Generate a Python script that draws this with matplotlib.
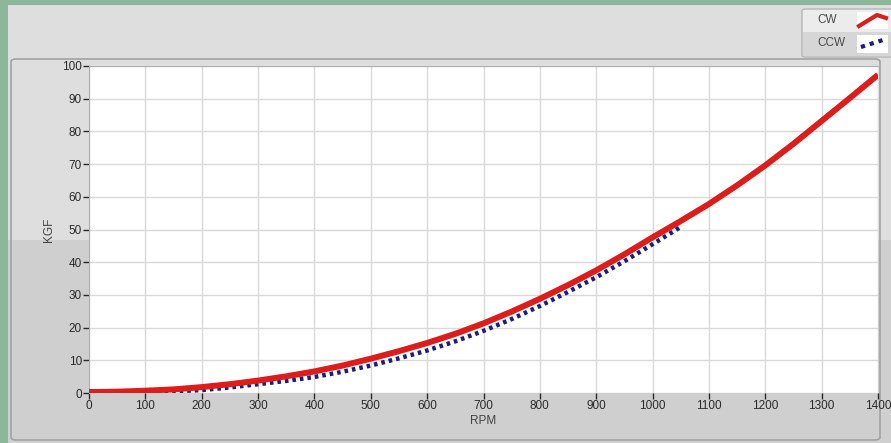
import matplotlib
matplotlib.use("Agg")
import matplotlib.pyplot as plt
from matplotlib.patches import Rectangle, FancyBboxPatch
from matplotlib.lines import Line2D

# data
rpm_cw = [0, 50, 100, 150, 200, 250, 300, 350, 400, 450, 500, 550, 600, 650, 700,
          750, 800, 850, 900, 950, 1000, 1050, 1100, 1150, 1200, 1250, 1300, 1350, 1400]
kgf_cw = [0.3, 0.4, 0.7, 1.1, 1.8, 2.7, 3.8, 5.1, 6.6, 8.4, 10.5, 12.8, 15.3, 18.1, 21.3,
          24.9, 28.8, 33.0, 37.5, 42.4, 47.6, 52.6, 57.8, 63.5, 69.6, 76.2, 83.2, 90.2, 97.3]
rpm_ccw = [0, 50, 100, 150, 200, 250, 300, 350, 400, 450, 500, 550, 600, 650, 700,
           750, 800, 850, 900, 950, 1000, 1050]
kgf_ccw = [0.0, 0.1, 0.2, 0.5, 0.9, 1.7, 2.7, 3.7, 4.9, 6.5, 8.4, 10.6, 13.0, 15.8, 19.0,
           22.6, 26.6, 30.9, 35.4, 40.3, 45.5, 50.8]
xticks = list(range(0, 1401, 100))
yticks = list(range(0, 101, 10))

W, H = 891, 443
plt.rcParams['font.family'] = ['Liberation Sans', 'DejaVu Sans']
fig = plt.figure(figsize=(W / 100, H / 100), dpi=100)
fig.patch.set_facecolor('#8cb79b')

def px(x0, y0, x1, y1):
    # pixel box (top-left origin) -> figure coords
    return x0 / W, 1 - y1 / H, (x1 - x0) / W, (y1 - y0) / H

def rect(x0, y0, x1, y1, **kw):
    x, y, w, h = px(x0, y0, x1, y1)
    fig.patches.append(Rectangle((x, y), w, h, transform=fig.transFigure, **kw))

# panel backgrounds (behind the axes)
rect(8, 5, 891, 443, facecolor='#dedede', edgecolor='none', zorder=-3)
rect(8, 240, 891, 443, facecolor='#cfcfcf', edgecolor='none', zorder=-3)
x, y, w, h = px(11, 59, 880, 440)
fig.patches.append(FancyBboxPatch((x, y), w, h, boxstyle='round,pad=0,rounding_size=0.006',
                                  transform=fig.transFigure, facecolor='none',
                                  edgecolor='#a3a3a3', lw=1.2, zorder=-2))

ax = fig.add_axes([89 / W, 1 - 393 / H, (878 - 89) / W, (393 - 66) / H])
ax.set_facecolor('white')
ax.plot(rpm_ccw, kgf_ccw, color='#1c1c7a', lw=3.2, linestyle=(0, (0.8, 0.9)), zorder=3)
ax.plot(rpm_cw, kgf_cw, color='#dd1c1c', lw=4.3, solid_capstyle='butt', zorder=4)

ax.set_xlim(0, 1400)
ax.set_ylim(0, 100)
ax.set_xticks(xticks)
ax.set_yticks(yticks)
ax.grid(True, color='#d9d9d9', lw=1)
ax.set_axisbelow(True)
ax.tick_params(axis='both', colors='#2a2a2a', labelsize=8.5, length=4, width=1, pad=1)
for s in ax.spines.values():
    s.set_color('#b0b0b0')
    s.set_linewidth(0.8)
ax.spines['bottom'].set_visible(False)
ax.spines['right'].set_visible(False)
ax.set_xlabel('RPM', fontsize=8.5, color='#444444', labelpad=2)
ax.set_ylabel('KGF', fontsize=8.5, color='#444444', labelpad=5)

# legend box, drawn like the instrument panel
x, y, w, h = px(802, 9, 896, 57)
fig.patches.append(FancyBboxPatch((x, y), w, h, boxstyle='round,pad=0,rounding_size=0.004',
                                  transform=fig.transFigure, facecolor='#ececec',
                                  edgecolor='#b5b5b5', lw=1, zorder=2))
rect(803, 32, 891, 56, facecolor='#d6d6d6', edgecolor='none', zorder=3)
rect(857, 12, 888, 29, facecolor='white', edgecolor='none', zorder=4)
rect(857, 35, 888, 53, facecolor='white', edgecolor='none', zorder=4)
fig.text(817 / W, 1 - 20 / H, 'CW', fontsize=8.5, color='#4a4a4a', va='center', ha='left', zorder=5)
fig.text(817 / W, 1 - 43 / H, 'CCW', fontsize=8.5, color='#4a4a4a', va='center', ha='left', zorder=5)
fig.lines.append(Line2D([859 / W, 877 / W, 886 / W], [1 - 26 / H, 1 - 15 / H, 1 - 18 / H],
                        transform=fig.transFigure, color='#dd1c1c', lw=3, zorder=6))
fig.lines.append(Line2D([861 / W, 886 / W], [1 - 47 / H, 1 - 39 / H],
                        transform=fig.transFigure, color='#1c1c7a', lw=3,
                        linestyle=(0, (1, 1.2)), zorder=6))

fig.savefig('out.png', dpi=100, facecolor=fig.get_facecolor())
